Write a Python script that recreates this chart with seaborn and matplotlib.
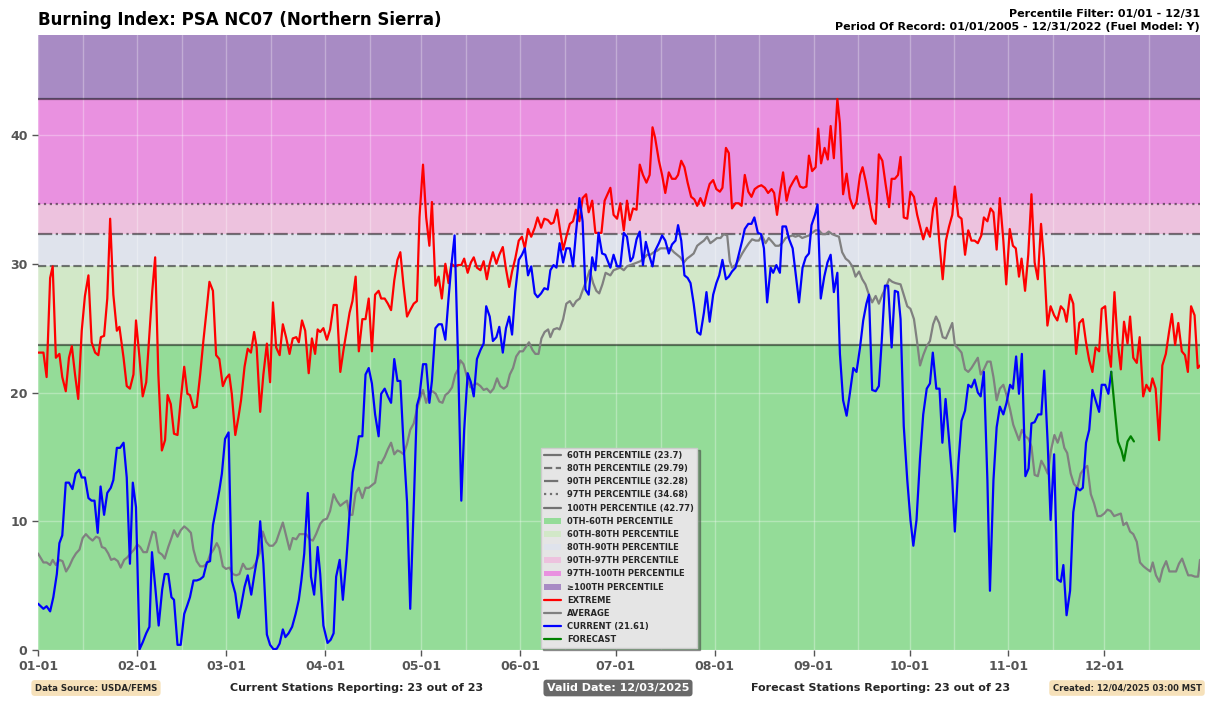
import numpy as np
import pandas as pd
import matplotlib
matplotlib.use("Agg")
import matplotlib.pyplot as plt
import matplotlib.dates as mdates
from matplotlib.lines import Line2D
from matplotlib.patches import Patch
import seaborn as sns

# ---------------- data ----------------
YEAR_START = pd.Timestamp("2025-01-01")

pct_names = ["60TH PERCENTILE", "80TH PERCENTILE", "90TH PERCENTILE",
             "97TH PERCENTILE", "100TH PERCENTILE"]
pct_values = [23.7, 29.79, 32.28, 34.68, 42.77]
pct_styles = ["-", "--", "-.", ":", "-"]

band_names = ["0TH-60TH PERCENTILE", "60TH-80TH PERCENTILE", "80TH-90TH PERCENTILE",
              "90TH-97TH PERCENTILE", "97TH-100TH PERCENTILE", "\u2265100TH PERCENTILE"]
band_colors = ["#94dc98", "#d2e8c8", "#dfe3ec", "#edc2de", "#e991e0", "#a88bc4"]

# day offsets from Jan 1 and values
extreme_days = [
    0, 1.7, 2.7, 3.8, 4.6, 5.6, 6.7, 7.6, 8.7, 9.7, 10.6, 11.6, 12.6, 13.7, 14.7, 15.8, 16.8, 17.9, 18.9, 19.7,
    20.7, 21.7, 22.6, 23.6, 24.7, 25.5, 26.8, 27.8, 28.8, 29.9, 30.7, 31.8, 32.8, 33.9, 34.9, 35.8, 36.7, 37.7,
    38.8, 39.8, 40.6, 41.6, 42.6, 43.7, 44.7, 45.8, 46.8, 47.6, 48.7, 49.7, 50.8, 51.8, 52.9, 53.7, 54.8, 55.8,
    56.8, 57.9, 58.9, 59.9, 60.7, 61.8, 62.8, 63.6, 64.7, 65.7, 66.7, 67.7, 68.5, 69.6, 70.6, 71.7, 72.7, 73.6,
    74.6, 75.7, 76.7, 77.7, 78.8, 79.8, 80.9, 81.7, 82.7, 83.7, 84.8, 85.8, 86.8, 87.6,
    88.4, 89.4, 90.5, 91.5, 92.6, 93.6, 94.7, 95.7, 96.8, 97.6, 98.5, 99.5, 100.5, 101.6, 102.6, 103.6, 104.6,
    105.6, 106.7, 107.5, 108.6, 109.6, 110.6, 111.6, 112.6, 113.5, 114.5, 115.6, 116.6, 117.7, 118.7, 119.5,
    120.6, 121.6, 122.6, 123.4, 124.5, 125.5, 126.5, 127.6, 128.6, 129.5, 130.5, 131.6, 132.6, 133.5, 134.6,
    135.6, 136.5, 137.5, 138.6, 139.6, 140.6, 141.5, 142.5, 143.6, 144.5, 145.6, 146.6, 147.6, 148.5, 149.5,
    150.6, 151.6, 152.5, 153.5, 154.5, 155.6, 156.5, 157.6, 158.6, 159.7, 160.7, 161.5, 162.6, 163.6, 164.5,
    165.5, 166.6, 167.6, 168.5, 169.6, 170.6, 171.7, 172.5, 173.6, 174.6, 175.6, 176.5, 177.5,
    179.3, 180.3, 181.4, 182.4, 183.5, 184.5, 185.4, 186.4, 187.5, 188.5, 189.5, 190.6, 191.6, 192.5, 193.3,
    194.5, 195.5, 196.5, 197.6, 198.6, 199.7, 200.5, 201.5, 202.5, 203.5, 204.6, 205.6, 206.5, 207.5, 208.6,
    209.6, 210.4, 211.5, 212.5, 213.6, 214.4, 215.5, 216.4, 217.4, 218.5, 219.5, 220.4, 221.4, 222.5, 223.5,
    224.5, 225.6, 226.6, 227.7, 228.7, 229.8, 230.6, 231.5, 232.4, 233.4, 234.5, 235.5, 236.6, 237.6, 238.7,
    239.7, 240.7, 241.5, 242.5, 243.6, 244.4, 245.3, 246.4, 247.4, 248.3, 249.3, 250.4, 251.2, 252.2, 253.3,
    254.3, 255.4, 256.4, 257.5, 258.3, 259.3, 260.4, 261.4, 262.4, 263.4, 264.5, 265.5, 266.6, 267.4, 268.4, 269.4,
    270.2, 271.2, 272.3, 273.3, 274.4, 275.4, 276.5, 277.3, 278.4, 279.4, 280.4, 281.3, 282.3, 283.4, 284.4,
    285.4, 286.4, 287.2, 288.3, 289.3, 290.4, 291.4, 292.4, 293.4, 294.4, 295.5, 296.3, 297.4, 298.4, 299.3,
    300.3, 301.3, 302.4, 303.3, 304.4, 305.4, 306.3, 307.3, 308.1, 309.2, 310.2, 311.2, 312.2, 313.2, 314.2,
    315.1, 316.2, 317.2, 318.3, 319.3, 320.4, 321.4, 322.2, 323.3, 324.3, 325.2, 326.2, 327.3, 328.3, 329.3,
    330.3, 331.3, 332.4, 333.2, 334.3, 335.3, 336.1, 337.2, 338.2, 339.2, 340.2, 341.3, 342.1, 343.1, 344.2,
    345.1, 346.2, 347.2, 348.3, 349.1, 350.1, 351.2, 352.2, 353.3, 354.3, 355.2, 356.2, 357.2, 358.3, 359.3,
    360.2, 361.2, 362.3, 363.3, 364]
extreme_vals = [
    23.1, 23.1, 21.2, 28.9, 29.8, 22.7, 23.0, 21.2, 20.1, 22.7, 23.6, 21.4, 19.5, 24.8, 27.5, 29.1, 23.9, 23.1, 22.9, 24.3,
    24.4, 27.3, 33.5, 27.6, 24.8, 25.1, 22.7, 20.5, 20.3, 21.4, 25.6, 22.7, 19.7, 20.8, 24.5, 27.9, 30.5, 21.4,
    15.5, 16.3, 19.8, 19.1, 16.8, 16.7, 19.4, 22.0, 19.9, 19.8, 18.8, 18.9, 21.4, 24.0, 26.6, 28.6, 27.9, 22.9,
    22.6, 20.5, 21.1, 21.4, 19.9, 16.7, 18.1, 19.4, 22.0, 23.4, 23.1, 24.7, 23.5, 18.5, 21.4, 23.8, 20.8, 27.0,
    23.5, 22.9, 25.3, 24.3, 23.0, 24.2, 24.3, 23.9, 25.6, 24.8, 21.5, 24.2, 23.0, 24.9,
    24.7, 25.0, 24.1, 24.9, 26.8, 26.8, 21.6, 23.3, 25.0, 26.2, 27.1, 29.0, 23.2, 25.7, 25.7, 27.3, 23.2,
    27.6, 27.9, 27.3, 27.3, 26.9, 26.4, 28.7, 30.3, 30.9, 28.3, 25.9, 26.4, 26.9, 27.1, 33.6,
    37.7, 33.6, 31.4, 34.8, 28.3, 29.0, 27.3, 30.0, 28.5, 30.0, 29.8, 29.9, 29.9, 30.4, 29.3,
    30.1, 30.5, 29.7, 29.5, 30.2, 28.8, 30.0, 30.9, 30.0, 30.7, 31.3, 29.6, 28.2, 29.4, 30.4,
    31.8, 32.1, 31.2, 32.7, 32.1, 32.8, 33.6, 32.8, 33.5, 33.4, 33.1, 33.2, 34.2, 32.5, 31.1,
    32.1, 33.1, 33.3, 34.2, 33.3, 35.1, 35.4, 34.0, 34.9, 32.4, 32.4, 32.4, 34.9,
    35.9, 33.8, 33.5, 34.7, 32.6, 34.9, 33.4, 34.3, 34.2, 37.7, 36.9, 36.3, 36.9, 40.6, 39.8,
    38.0, 36.9, 35.5, 37.1, 36.6, 36.6, 36.9, 38.0, 37.5, 36.3, 35.2, 35.0, 34.5, 35.1, 34.5,
    35.5, 36.2, 36.5, 35.8, 35.6, 35.9, 39.0, 38.6, 34.3, 34.7, 34.7, 34.5, 36.9, 35.6, 35.2,
    35.8, 36.0, 36.1, 35.9, 35.5, 35.8, 35.5, 33.8, 35.5, 37.1, 34.9, 35.9, 36.4, 36.8, 36.0,
    35.9, 36.0, 38.4, 37.2, 37.5, 40.5, 37.8, 39.0, 38.1, 40.7, 38.2, 42.8, 40.9, 35.4, 37.0,
    35.1, 34.3, 34.8, 36.9, 37.5, 36.4, 34.9, 33.5, 33.1, 38.5, 38.0, 36.2, 34.4, 36.6, 36.6, 36.9,
    38.3, 33.6, 33.5, 35.6, 35.2, 33.8, 32.7, 31.9, 32.8, 32.1, 34.3, 35.1, 31.8, 28.8, 31.8,
    32.9, 33.8, 36.0, 33.7, 33.5, 30.7, 32.6, 31.8, 31.8, 31.6, 32.2, 33.6, 33.3, 34.3, 34.0,
    31.1, 35.1, 31.8, 28.4, 32.7, 31.4, 31.2, 29.0, 30.4, 27.9, 30.7, 35.4, 30.1, 28.8, 33.1,
    30.4, 25.2, 26.7, 26.0, 25.6, 26.7, 26.4, 25.5, 27.6, 26.9, 23.0, 25.4, 25.7, 23.9, 22.5,
    21.6, 23.5, 23.2, 26.5, 26.7, 23.2, 22.0, 27.8, 23.9, 21.8, 25.5, 23.8, 25.9, 22.7, 22.3,
    24.3, 19.7, 20.6, 20.1, 21.1, 20.3, 16.3, 22.1, 23.0, 24.7, 26.1, 23.7, 25.4, 23.2, 22.9,
    21.6, 26.7, 26.0, 21.9, 22.1]

average_days = [
    0, 1.7, 2.7, 3.8, 4.6, 5.6, 6.7, 7.7, 8.8, 9.8, 10.9, 11.9, 13.0, 14.0, 15.0, 16.1, 17.1, 18.2, 19.2, 20.0,
    21.0, 22.0, 22.9, 23.9, 25.0, 25.9, 27.0, 28.0, 29.0, 30.1, 31.1, 32.0, 33.0, 34.1, 35.1, 35.9, 36.8, 37.8,
    38.9, 39.7, 40.8, 41.8, 42.6, 43.7, 44.7, 45.8, 46.8, 47.9, 48.7, 49.7, 50.8, 51.8, 52.9, 53.9, 55.0, 56.0,
    56.8, 57.9, 58.9, 60.0, 61.0, 62.1, 63.1, 64.2, 65.2, 66.2, 67.3, 68.3, 69.4, 70.4, 71.5, 72.5, 73.6, 74.6,
    75.7, 76.7, 77.7, 78.8, 79.8, 80.9, 81.9, 83.0, 84.0, 85.1, 86.1, 87.1,
    88.4, 89.4, 90.5, 91.5, 92.6, 93.6, 94.7, 95.7, 96.8, 97.6, 98.5, 99.5, 100.5, 101.6, 102.6, 103.6, 104.6,
    105.6, 106.7, 107.5, 108.6, 109.6, 110.6, 111.6, 112.6, 113.5, 114.5, 115.6, 116.6, 117.7, 118.7, 119.5,
    120.6, 121.6, 122.6, 123.6, 124.6, 125.7, 126.7, 127.6, 128.6, 129.7, 130.7, 131.6, 132.3, 133.3, 134.4,
    135.4, 136.5, 137.5, 138.6, 139.6, 140.6, 141.7, 142.7, 143.8, 144.8, 145.9, 146.9, 147.8, 148.8, 149.8,
    150.9, 151.9, 153.0, 153.8, 154.9, 155.8, 156.8, 157.7, 158.7, 159.8, 160.5, 161.5, 162.6, 163.4, 164.5,
    165.5, 166.6, 167.6, 168.6, 169.7, 170.7, 171.8, 172.8, 173.9, 174.9, 175.8, 176.8, 177.8,
    179.3, 180.3, 181.4, 182.4, 183.5, 184.5, 185.6, 186.6, 187.7, 188.7, 189.7, 190.8, 191.8, 192.9, 193.9,
    195.0, 196.0, 197.1, 198.1, 199.2, 200.2, 201.2, 202.3, 203.3, 204.4, 205.4, 206.5, 207.5, 208.6, 209.6,
    210.6, 211.7, 212.7, 213.8, 214.8, 215.9, 216.7, 217.4, 218.5, 219.5, 220.6, 221.6, 222.7, 223.7, 224.8,
    225.8, 226.8, 227.9, 228.9, 230.0, 231.0, 232.1, 233.1, 234.2, 235.2, 236.3, 237.3, 238.3, 239.4, 240.4,
    241.5, 242.5, 243.6, 244.6, 245.7, 246.7, 247.7, 248.8, 249.8, 250.9, 251.9, 253.0, 254.0, 255.1, 256.1,
    257.2, 258.2, 259.2, 260.3, 261.3, 262.4, 263.4, 264.5, 265.5, 266.6, 267.6, 268.6,
    270.2, 271.2, 272.3, 273.3, 274.4, 275.4, 276.3, 277.3, 278.4, 279.4, 280.4, 281.3, 282.3, 283.4, 284.4,
    285.4, 286.4, 287.2, 288.3, 289.3, 290.4, 291.4, 292.4, 293.4, 294.4, 295.3, 296.3, 297.4, 298.4, 299.3,
    300.3, 301.3, 302.4, 303.4, 304.5, 305.5, 306.4, 307.3, 308.2, 309.3, 310.3, 311.2, 312.2, 313.2, 314.3,
    315.2, 316.3, 317.3, 318.4, 319.4, 320.5, 321.5, 322.4, 323.5, 324.5, 325.6, 326.6, 327.7, 328.7, 329.8,
    330.8, 331.9, 332.9, 334.0, 335.0, 336.0, 337.1, 338.1, 339.2, 340.0, 341.0, 342.1, 343.1, 344.2, 345.2,
    346.3, 347.3, 348.4, 349.2, 350.2, 351.3, 352.3, 353.4, 354.4, 355.5, 356.5, 357.4, 358.4, 359.4, 360.3,
    361.3, 362.4, 363.4, 364]
average_vals = [
    7.5, 6.8, 6.8, 6.6, 7.0, 6.6, 7.0, 6.9, 6.1, 6.5, 7.1, 7.5, 7.8, 8.7, 9.0, 8.7, 8.5, 8.8, 8.7, 8.0,
    7.9, 7.5, 7.0, 7.1, 6.9, 6.4, 7.0, 7.2, 7.5, 7.8, 8.2, 8.0, 7.6, 7.6, 8.5, 9.2, 9.1, 7.6,
    7.4, 7.1, 8.0, 8.7, 9.3, 8.8, 9.3, 9.6, 9.4, 9.1, 7.8, 6.9, 6.5, 6.5, 6.7, 7.4, 7.8, 8.3,
    7.9, 6.5, 6.3, 6.4, 5.9, 5.8, 5.9, 6.7, 6.3, 6.3, 6.4, 6.8, 7.5, 9.2, 8.4, 8.1, 8.1, 8.4,
    9.2, 9.9, 8.9, 7.8, 8.7, 8.6, 9.0, 9.0, 9.0, 8.6, 8.5, 9.0,
    9.8, 10.1, 10.2, 10.8, 12.1, 11.6, 11.2, 11.4, 11.6, 10.5, 10.5, 12.2, 12.6, 11.8, 12.6, 12.6, 12.8,
    13.0, 14.6, 14.5, 15.0, 15.6, 16.1, 15.2, 15.5, 15.4, 15.2, 16.0, 17.1, 17.6, 18.7, 19.4,
    20.2, 19.2, 20.0, 20.1, 19.9, 19.3, 19.2, 19.8, 20.0, 20.4, 21.4, 21.8, 22.5, 22.2, 21.2,
    20.4, 20.6, 20.7, 20.5, 20.2, 20.3, 20.0, 20.3, 21.1, 20.5, 20.3, 20.5, 21.4, 21.9, 22.8,
    23.2, 23.2, 23.6, 23.9, 23.3, 23.0, 23.0, 24.2, 24.7, 24.9, 24.3, 24.9, 25.0, 24.9, 25.7,
    26.9, 27.1, 26.7, 27.1, 27.3, 28.0, 28.7, 29.5, 28.5, 27.9, 27.7, 28.4, 29.3,
    29.1, 29.5, 29.6, 29.7, 29.5, 29.8, 29.9, 30.0, 30.1, 30.2, 30.4, 30.7, 30.7, 30.9, 31.0,
    31.2, 31.2, 31.2, 31.2, 30.9, 30.7, 30.5, 30.1, 30.4, 30.6, 30.8, 31.4, 31.6, 31.8, 32.1,
    31.6, 31.8, 32.0, 32.0, 32.3, 32.2, 30.2, 29.7, 29.9, 30.3, 30.8, 31.2, 31.6, 31.9, 31.8,
    31.8, 32.2, 31.6, 32.0, 31.7, 31.4, 31.4, 31.6, 32.0, 32.1, 32.2, 32.1, 32.2, 32.0, 32.1,
    32.2, 32.4, 32.6, 32.6, 32.3, 32.3, 32.5, 32.3, 32.2, 32.1, 30.9, 30.4, 30.2, 29.8, 29.0,
    29.4, 28.8, 28.4, 27.6, 27.0, 27.5, 26.9, 27.6, 28.1, 28.8, 28.6, 28.5,
    28.4, 27.6, 26.7, 26.5, 25.7, 23.9, 22.1, 22.9, 23.6, 24.0, 25.3, 25.9, 25.4, 24.3, 24.2,
    24.8, 25.4, 23.7, 23.4, 23.1, 21.8, 21.6, 21.9, 22.3, 22.7, 21.4, 21.8, 22.4, 22.4, 21.2,
    19.4, 20.3, 20.6, 19.8, 18.7, 17.5, 16.9, 16.3, 17.1, 16.6, 16.4, 15.8, 13.6, 13.5, 14.7,
    14.3, 13.7, 15.5, 16.7, 16.1, 16.9, 15.7, 15.3, 13.7, 12.9, 12.6, 13.7, 14.1, 14.3, 12.1,
    11.4, 10.4, 10.4, 10.6, 10.9, 10.8, 10.4, 10.5, 10.6, 9.7, 9.9, 9.2, 9.0, 8.4, 6.8,
    6.5, 6.3, 6.1, 6.8, 5.8, 5.3, 6.3, 6.9, 6.1, 6.1, 6.1, 6.7, 7.1, 6.4, 5.8,
    5.8, 5.7, 5.7, 7.0]

current_days = [
    0, 1.7, 2.7, 3.8, 4.8, 5.9, 6.7, 7.6, 8.7, 9.7, 10.8, 11.8, 12.9, 13.7, 14.7, 15.8, 16.8, 17.7, 18.7, 19.6,
    20.7, 21.7, 22.8, 23.6, 24.7, 25.7, 26.8, 27.8, 28.8, 29.7, 30.7, 31.8, 32.8, 33.9, 34.9, 35.7, 36.8, 37.8,
    38.9, 39.7, 40.8, 41.8, 42.6, 43.7, 44.7, 45.8, 46.8, 47.6, 48.7, 49.7, 50.8, 51.8, 52.9, 53.9, 54.8, 55.8,
    56.8, 57.6, 58.6, 59.7, 60.7, 61.8, 62.8, 63.6, 64.7, 65.7, 66.8, 67.8, 68.9, 69.6, 70.6, 71.7, 72.7, 73.8,
    74.8, 75.7, 76.7, 77.5, 78.5, 79.6, 80.7, 81.7, 82.5, 83.4, 84.5, 85.5, 86.5, 87.6,
    88.4, 89.4, 90.7, 91.7, 92.6, 93.4, 94.5, 95.5, 96.6, 97.6, 98.6, 99.7, 100.5, 101.6, 102.6, 103.6, 104.6,
    105.6, 106.7, 107.5, 108.6, 109.6, 110.6, 111.6, 112.6, 113.5, 114.5, 115.6, 116.6, 117.7, 118.7, 119.5,
    120.6, 121.6, 122.6, 123.4, 124.5, 125.5, 126.5, 127.6, 128.6, 129.5, 130.5, 131.6, 132.6, 133.5, 134.6,
    135.6, 136.5, 137.5, 138.6, 139.6, 140.4, 141.5, 142.5, 143.6, 144.5, 145.6, 146.6, 147.6, 148.5, 149.5,
    150.6, 151.6, 152.5, 153.5, 154.5, 155.6, 156.5, 157.6, 158.6, 159.7, 160.5, 161.5, 162.4, 163.4, 164.5,
    165.5, 166.6, 167.6, 168.6, 169.6, 170.6, 171.5, 172.5, 173.6, 174.6, 175.6, 176.7, 177.7,
    179.3, 180.3, 181.4, 182.4, 183.5, 184.5, 185.6, 186.4, 187.5, 188.5, 189.5, 190.4, 191.4, 192.5, 193.3,
    194.5, 195.5, 196.5, 197.6, 198.6, 199.7, 200.5, 201.5, 202.5, 203.5, 204.4, 205.4, 206.5, 207.5, 208.6,
    209.4, 210.4, 211.5, 212.5, 213.4, 214.4, 215.5, 216.4, 217.4, 218.5, 219.5, 220.6, 221.4, 222.5, 223.5,
    224.4, 225.5, 226.5, 227.4, 228.4, 229.5, 230.3, 231.3, 232.4, 233.2, 234.3, 235.3, 236.4, 237.4, 238.4,
    239.5, 240.5, 241.5, 242.3, 243.4, 244.2, 245.2, 246.3, 247.3, 248.3, 249.3, 250.4, 251.2, 252.2, 253.3,
    254.3, 255.4, 256.4, 257.5, 258.5, 259.5, 260.3, 261.3, 262.4, 263.4, 264.3, 265.3, 266.3, 267.4, 268.4, 269.4,
    270.2, 271.2, 272.3, 273.3, 274.2, 275.2, 276.3, 277.3, 278.4, 279.4, 280.3, 281.4, 282.4, 283.3, 284.3,
    285.4, 286.4, 287.2, 288.3, 289.3, 290.4, 291.4, 292.4, 293.4, 294.4, 295.3, 296.3, 297.4, 298.2, 299.3,
    300.3, 301.3, 302.4, 303.4, 304.5, 305.4, 306.4, 307.3, 308.2, 309.3, 310.3, 311.2, 312.2, 313.3, 314.3,
    315.2, 316.3, 317.2, 318.3, 319.3, 320.4, 321.2, 322.2, 323.3, 324.3, 325.4, 326.4, 327.3, 328.3, 329.3,
    330.3, 331.3, 332.4, 333.2, 334.3, 335.3, 336.2]
current_vals = [
    3.6, 3.2, 3.4, 3.0, 4.1, 5.9, 8.3, 8.9, 13.0, 13.0, 12.5, 13.7, 14.0, 13.4, 13.4, 11.8, 11.6, 11.6, 9.1, 12.7,
    10.5, 12.2, 12.6, 13.2, 15.7, 15.7, 16.1, 13.4, 6.7, 13.0, 11.1, 0.05, 0.6, 1.3, 1.8, 7.6, 4.7, 1.9,
    4.7, 5.9, 5.9, 4.1, 3.9, 0.4, 0.4, 2.8, 3.5, 4.1, 5.4, 5.4, 5.5, 5.7, 6.8, 6.9, 9.7, 11.0,
    12.4, 13.7, 16.4, 16.9, 5.4, 4.4, 2.5, 3.4, 4.9, 5.8, 4.3, 5.9, 7.5, 10.0, 6.7, 1.2, 0.4, 0.05,
    0.1, 0.5, 1.6, 1.0, 1.3, 1.8, 2.8, 3.9, 5.4, 7.5, 12.2, 5.7, 4.3, 8.0,
    5.9, 1.9, 0.55, 0.8, 1.3, 5.7, 7.0, 3.9, 7.0, 10.6, 13.8, 15.2, 16.6, 16.6, 21.4, 21.9, 20.7,
    18.3, 16.6, 19.9, 20.3, 19.7, 19.2, 22.6, 20.9, 20.9, 16.0, 11.5, 3.2, 11.2, 19.0, 19.7,
    22.2, 22.2, 19.2, 20.9, 25.0, 25.3, 25.3, 24.1, 27.3, 29.9, 32.2, 22.5, 11.6, 17.1, 21.5,
    20.8, 19.7, 22.6, 23.3, 23.8, 26.7, 25.9, 24.0, 24.3, 25.1, 23.1, 25.0, 25.9, 24.5, 27.8,
    30.3, 30.7, 31.2, 29.1, 29.8, 27.7, 27.4, 27.7, 28.1, 28.0, 29.5, 29.9, 29.7, 31.6, 30.1,
    31.2, 31.2, 29.8, 32.6, 35.1, 33.3, 28.0, 27.6, 30.5, 29.5, 32.4, 30.8, 30.7,
    29.7, 30.7, 29.8, 29.8, 32.4, 32.1, 30.2, 30.5, 31.9, 32.5, 29.9, 31.7, 30.7, 29.8, 31.0,
    31.6, 32.2, 31.8, 30.8, 31.5, 31.8, 33.0, 31.8, 29.1, 28.9, 28.5, 26.9, 24.7, 24.5, 26.2,
    27.8, 25.5, 27.6, 28.5, 29.1, 30.3, 28.8, 29.0, 29.4, 29.7, 30.7, 31.8, 32.7, 33.1, 33.1,
    33.6, 32.4, 32.3, 31.2, 27.0, 29.7, 29.3, 29.9, 29.3, 32.9, 32.9, 31.9, 31.2, 29.1, 27.0,
    29.7, 30.5, 30.8, 33.0, 33.8, 34.6, 27.3, 29.0, 30.1, 30.7, 27.8, 29.3, 23.0, 19.4, 18.2,
    19.9, 21.9, 21.6, 23.5, 25.6, 26.9, 27.6, 20.2, 20.1, 20.5, 24.0, 28.3, 28.3, 23.5, 27.9, 27.8,
    25.7, 17.4, 13.2, 10.1, 8.1, 10.1, 14.9, 18.3, 20.3, 20.7, 23.1, 20.3, 20.3, 16.1, 19.5,
    16.3, 13.2, 9.2, 14.5, 17.8, 18.6, 20.6, 20.4, 21.0, 20.0, 19.7, 21.6, 13.2, 4.6, 13.2,
    17.3, 18.9, 18.3, 19.2, 20.6, 20.3, 22.8, 19.9, 23.0, 13.5, 14.1, 17.6, 17.7, 18.3, 18.3,
    21.7, 16.0, 10.1, 15.2, 5.5, 5.3, 6.6, 2.7, 4.6, 10.7, 12.6, 12.4, 12.6, 16.1, 17.1,
    20.2, 19.4, 18.5, 20.6, 20.6, 19.9, 21.61]

forecast_days = [336.2, 337.3, 338.3, 339.4, 340.2, 341.3, 342.3, 343.3]
forecast_vals = [21.61, 18.7, 16.2, 15.5, 14.7, 16.2, 16.6, 16.2]

current_latest = 21.61

assert len(extreme_days) == len(extreme_vals)
assert len(average_days) == len(average_vals)
assert len(current_days) == len(current_vals)
assert len(forecast_days) == len(forecast_vals)


def frame(days, vals):
    return pd.DataFrame({"date": YEAR_START + pd.to_timedelta(np.asarray(days, float), unit="D"),
                         "value": vals})


# ---------------- style ----------------
sns.set_theme(style="white")
plt.rcParams["font.family"] = ["DejaVu Sans"]
plt.rcParams["font.weight"] = "bold"

fig = plt.figure(figsize=(12.09, 7.03), dpi=100)
ax = fig.add_axes([38 / 1209, 53 / 703, 1162 / 1209, 615 / 703])

y_top = pct_values[-1] + 5
edges = [0] + pct_values + [y_top]
for lo, hi, c in zip(edges[:-1], edges[1:], band_colors):
    ax.axhspan(lo, hi, color=c, lw=0, zorder=0.2)

for v, ls in zip(pct_values, pct_styles):
    ax.axhline(v, color="black", alpha=0.5, lw=1.6, ls=ls, zorder=1.8)

sns.lineplot(data=frame(average_days, average_vals), x="date", y="value", color="gray",
             lw=1.6, ax=ax, zorder=3)
sns.lineplot(data=frame(extreme_days, extreme_vals), x="date", y="value", color="red",
             lw=1.6, ax=ax, zorder=3)
sns.lineplot(data=frame(current_days, current_vals), x="date", y="value", color="blue",
             lw=1.6, ax=ax, zorder=4)
sns.lineplot(data=frame(forecast_days, forecast_vals), x="date", y="value", color="green",
             lw=1.6, ax=ax, zorder=4)

ax.set_xlim(YEAR_START, YEAR_START + pd.Timedelta(days=364))
ax.set_ylim(0, y_top)
ax.set_xlabel("")
ax.set_ylabel("")
ax.xaxis.set_major_locator(mdates.MonthLocator())
ax.xaxis.set_major_formatter(mdates.DateFormatter("%m-%d"))
ax.xaxis.set_minor_locator(mdates.MonthLocator(bymonthday=15))
ax.set_yticks([0, 10, 20, 30, 40])
ax.set_axisbelow("line")
ax.grid(True, which="major", color="white", alpha=0.3, lw=1)
ax.grid(True, which="minor", axis="x", color="white", alpha=0.3, lw=1)
ax.tick_params(axis="both", which="major", labelsize=9, labelcolor="#555555",
               color="#555555", length=4, width=1, direction="out", bottom=True, left=True)
ax.tick_params(axis="x", which="minor", length=0)
for lab in ax.get_xticklabels() + ax.get_yticklabels():
    lab.set_fontweight("bold")
for s in ax.spines.values():
    s.set_visible(False)

# legend
handles = []
labels = []
for name, v, ls in zip(pct_names, pct_values, pct_styles):
    handles.append(Line2D([], [], color="black", alpha=0.5, lw=1.6, ls=ls))
    labels.append(f"{name} ({v:g})")
for name, c in zip(band_names, band_colors):
    handles.append(Patch(facecolor=c, edgecolor="none"))
    labels.append(name)
for name, c in [("EXTREME", "red"), ("AVERAGE", "gray"),
                (f"CURRENT ({current_latest})", "blue"), ("FORECAST", "green")]:
    handles.append(Line2D([], [], color=c, lw=1.6))
    labels.append(name)
leg = ax.legend(handles, labels, loc="lower center", fontsize=6, frameon=True, shadow=True,
                facecolor="#e5e5e5", edgecolor="#cccccc", framealpha=1, borderaxespad=0.3,
                labelspacing=0.5, handlelength=2.0, fancybox=False)
leg.set_zorder(10)

# header texts
fig.text(38 / 1209, 1 - 20 / 703, "Burning Index: PSA NC07 (Northern Sierra)", ha="left",
         va="center", fontsize=12, fontweight="bold", color="black")
fig.text(1200 / 1209, 1 - 20.5 / 703,
         "Percentile Filter: 01/01 - 12/31\nPeriod Of Record: 01/01/2005 - 12/31/2022 (Fuel Model: Y)",
         ha="right", va="center", fontsize=8, fontweight="bold", color="black",
         multialignment="right", linespacing=1.25)

# footer texts
fy = 1 - 688 / 703
fig.text(96 / 1209, fy, "Data Source: USDA/FEMS", ha="center", va="center", fontsize=6.2,
         fontweight="bold", bbox=dict(boxstyle="round,pad=0.4", facecolor="wheat", edgecolor="none", alpha=0.9))
fig.text(357 / 1209, fy, "Current Stations Reporting: 23 out of 23", ha="center", va="center",
         fontsize=8, fontweight="bold")
fig.text(618 / 1209, fy, "Valid Date: 12/03/2025", ha="center", va="center", fontsize=8,
         fontweight="bold", color="white",
         bbox=dict(boxstyle="round,pad=0.3", facecolor="dimgray", edgecolor="none"))
fig.text(881 / 1209, fy, "Forecast Stations Reporting: 23 out of 23", ha="center", va="center",
         fontsize=8, fontweight="bold")
fig.text(1127 / 1209, fy, "Created: 12/04/2025 03:00 MST", ha="center", va="center", fontsize=6,
         fontweight="bold", bbox=dict(boxstyle="round,pad=0.4", facecolor="wheat", edgecolor="none", alpha=0.9))

fig.savefig("out.png", dpi=100)
